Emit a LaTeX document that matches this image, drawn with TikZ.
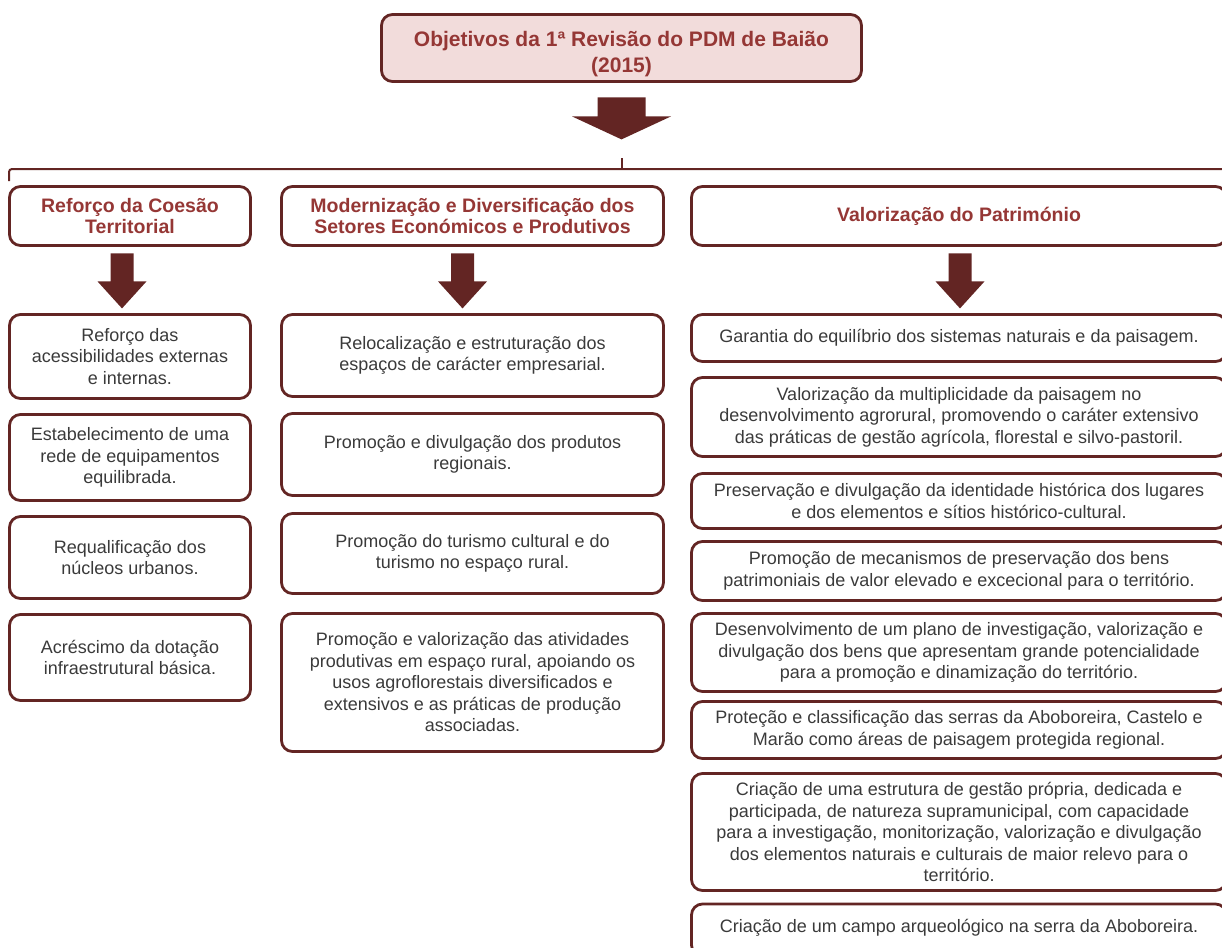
\documentclass[tikz,border=0pt]{standalone}
\usepackage{fontspec}
\setmainfont{Liberation Sans}
\usetikzlibrary{positioning}

\definecolor{boxred}{HTML}{632523}
\definecolor{headred}{HTML}{953735}
\definecolor{titlefill}{HTML}{F2DCDB}
\definecolor{bodygray}{HTML}{3A3A3A}

\tikzset{
  goal/.style={draw=boxred, line width=2.8pt, rounded corners=11pt, align=center,
    inner sep=0pt, text=bodygray, font=\fontsize{18}{21.5}\selectfont},
  header/.style={goal, text=headred, minimum height=59pt,
    font=\fontsize{19.5}{21.5}\selectfont\bfseries},
  leftcol/.style={goal, minimum width=241pt},
  midcol/.style={goal, minimum width=382pt},
  rightcol/.style={goal, minimum width=535pt},
  pics/blockdown/.style args={#1/#2/#3/#4}{code={
    \fill[boxred] (-#1,0) -- (#1,0) -- (#1,#3) -- (#2,#3) -- (0,#4) -- (-#2,#3) -- (-#1,#3) -- cycle;}},
}

\begin{document}
\begin{tikzpicture}[x=1pt, y=-1pt]
    \useasboundingbox (0,0) rectangle (1222,947);

    \node[goal, fill=titlefill, text=headred, minimum width=480pt, minimum height=67pt,
      font=\fontsize{21}{26}\selectfont\bfseries] (title) at (621.5,48) {\rule{0pt}{27pt}Objetivos da 1ª Revisão do PDM de Baião\\(2015)};

    % bracket
    \coordinate (brace) at (622,169);
    \draw[boxred, line width=2pt, rounded corners=3pt] (9,181) -- (9,169) -- (1232,169);
    \draw[boxred, line width=1.5pt] (brace) -- ++(0,-11);

    \node[header, minimum width=241pt] (coesao) at (130,216) {Reforço da Coesão\\Territorial};
    \node[header, minimum width=382pt] (economia) at (472.5,216) {Modernização e Diversificação dos\\Setores Económicos e Produtivos};
    \node[header, minimum width=535pt] (patrimonio) at (959,216) {Valorização do Património};

    \node[leftcol, minimum height=84pt] (c1) at (130,356.5) {Reforço das\\acessibilidades externas\\e internas.};
    \node[leftcol, minimum height=86pt] (c2) at (130,457.5) {Estabelecimento de uma\\rede de equipamentos\\equilibrada.};
    \node[leftcol, minimum height=82pt] (c3) at (130,557.5) {Requalificação dos\\núcleos urbanos.};
    \node[leftcol, minimum height=86pt] (c4) at (130,657.5) {Acréscimo da dotação\\infraestrutural básica.};

    \node[midcol, minimum height=82pt] (m1) at (472.5,355.5) {Relocalização e estruturação dos\\espaços de carácter empresarial.};
    \node[midcol, minimum height=82pt] (m2) at (472.5,454.5) {Promoção e divulgação dos produtos\\regionais.};
    \node[midcol, minimum height=80pt] (m3) at (472.5,553.5) {Promoção do turismo cultural e do\\turismo no espaço rural.};
    \node[midcol, minimum height=138pt] (m4) at (472.5,682.5) {Promoção e valorização das atividades\\produtivas em espaço rural, apoiando os\\usos agroflorestais diversificados e\\extensivos e as práticas de produção\\associadas.};

    \node[rightcol, minimum height=47pt] (p1) at (959,338) {Garantia do equilíbrio dos sistemas naturais e da paisagem.};
    \node[rightcol, minimum height=79pt] (p2) at (959,417) {Valorização da multiplicidade da paisagem no\\desenvolvimento agrorural, promovendo o caráter extensivo\\das práticas de gestão agrícola, florestal e silvo-pastoril.};
    \node[rightcol, minimum height=55pt] (p3) at (959,501) {Preservação e divulgação da identidade histórica dos lugares\\e dos elementos e sítios histórico-cultural.};
    \node[rightcol, minimum height=59pt] (p4) at (959,571) {Promoção de mecanismos de preservação dos bens\\patrimoniais de valor elevado e excecional para o território.};
    \node[rightcol, minimum height=78pt] (p5) at (959,652.5) {Desenvolvimento de um plano de investigação, valorização e\\divulgação dos bens que apresentam grande potencialidade\\para a promoção e dinamização do território.};
    \node[rightcol, minimum height=57pt] (p6) at (959,730) {Proteção e classificação das serras da Aboboreira, Castelo e\\Marão como áreas de paisagem protegida regional.};
    \node[rightcol, minimum height=117pt] (p7) at (959,832) {Criação de uma estrutura de gestão própria, dedicada e\\participada, de natureza supramunicipal, com capacidade\\para a investigação, monitorização, valorização e divulgação\\dos elementos naturais e culturais de maior relevo para o\\território.};
    \node[rightcol, minimum height=52pt] (p8) at (959,930) {\raisebox{8pt}{Criação de um campo arqueológico na serra da Aboboreira.}};

    % block arrows
    \pic at ([yshift=-14.5pt]title.south) {blockdown=24/49.5/19/42};
    \pic at ([xshift=-8pt,yshift=-6.5pt]coesao.south) {blockdown=11.5/24.5/28/55};
    \pic at ([xshift=-10pt,yshift=-6.5pt]economia.south) {blockdown=11.5/24.5/28/55};
    \pic at ([xshift=1pt,yshift=-6.5pt]patrimonio.south) {blockdown=11.5/24.5/28/55};
\end{tikzpicture}
\end{document}
